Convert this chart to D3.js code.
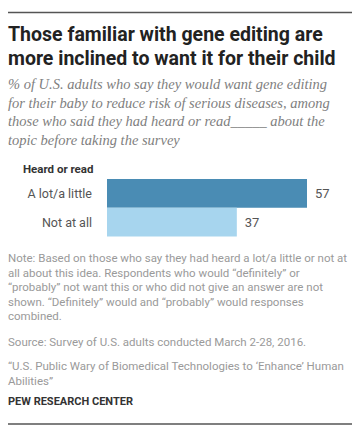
<!DOCTYPE html>
<html>
<head>
<meta charset="utf-8">
<script src="https://cdn.jsdelivr.net/npm/d3@7"></script>
<style>
  body { margin: 0; background: #fff; }
  svg { display: block; }
</style>
</head>
<body>
<div id="chart"></div>
<script>
var svgWidth = 361;
var svgHeight = 431;

// chart data
var categories = ["A lot/a little", "Not at all"];
var values = [57, 37];
var barColors = ["#4a8cb4", "#a7d5ee"];

var titleLines = [
  "Those familiar with gene editing are",
  "more inclined to want it for their child"
];
var subtitleLines = [
  "% of U.S. adults who say they would want gene editing",
  "for their baby to reduce risk of serious diseases, among",
  "those who said they had heard or read_____ about the",
  "topic before taking the survey"
];
var noteLines = [
  "Note: Based on those who say they had heard a lot/a little or not at",
  "all about this idea. Respondents who would \u201cdefinitely\u201d or",
  "\u201cprobably\u201d not want this or who did not give an answer are not",
  "shown. \u201cDefinitely\u201d would and \u201cprobably\u201d would responses",
  "combined."
];
var sourceLine = "Source: Survey of U.S. adults conducted March 2-28, 2016.";
var reportLines = [
  "\u201cU.S. Public Wary of Biomedical Technologies to \u2018Enhance\u2019 Human",
  "Abilities\u201d"
];

var svg = d3.select("#chart")
  .append("svg")
  .attr("width", svgWidth)
  .attr("height", svgHeight);

// top and bottom rules
svg.append("line")
  .attr("x1", 8).attr("x2", 352)
  .attr("y1", 12.5).attr("y2", 12.5)
  .attr("stroke", "#555").attr("stroke-width", 1.3);
svg.append("line")
  .attr("x1", 8).attr("x2", 352)
  .attr("y1", 424).attr("y2", 424)
  .attr("stroke", "#555").attr("stroke-width", 1.3);

// squeeze a text line to a width if it runs too long
function fit(sel, maxW) {
  sel.each(function () {
    var w = this.getComputedTextLength();
    if (w > maxW) {
      d3.select(this).attr("textLength", maxW).attr("lengthAdjust", "spacingAndGlyphs");
    }
  });
}

// title
svg.selectAll(".title")
  .data(titleLines)
  .enter()
  .append("text")
  .attr("class", "title")
  .attr("x", 8)
  .attr("y", (d, i) => 41 + i * 24)
  .attr("font-family", "Roboto, 'Liberation Sans', sans-serif")
  .attr("font-weight", "bold")
  .attr("font-size", 19.5)
  .attr("fill", "#222")
  .text(d => d)
  .call(fit, 338);

// subtitle
svg.selectAll(".subtitle")
  .data(subtitleLines)
  .enter()
  .append("text")
  .attr("class", "subtitle")
  .attr("x", 8)
  .attr("y", (d, i) => 89 + i * 18.5)
  .attr("font-family", "'Liberation Serif', serif")
  .attr("font-style", "italic")
  .attr("font-size", 14.5)
  .attr("fill", "#808080")
  .text(d => d)
  .call(fit, 334);

// bar chart
var x0 = 107;
var xScale = d3.scaleLinear()
  .domain([0, 57])
  .range([x0, 307]);

var yScale = d3.scaleBand()
  .domain(categories)
  .range([179, 236.5])
  .padding(0);

svg.append("text")
  .attr("x", 23)
  .attr("y", 173)
  .attr("font-family", "Roboto, 'Liberation Sans', sans-serif")
  .attr("font-weight", "bold")
  .attr("font-size", 11.5)
  .attr("fill", "#333")
  .text("Heard or read");

svg.selectAll(".bar")
  .data(values)
  .enter()
  .append("rect")
  .attr("class", "bar")
  .attr("x", xScale(0))
  .attr("y", (d, i) => yScale(categories[i]))
  .attr("width", d => xScale(d) - xScale(0))
  .attr("height", yScale.bandwidth())
  .attr("fill", (d, i) => barColors[i]);

svg.selectAll(".cat")
  .data(categories)
  .enter()
  .append("text")
  .attr("class", "cat")
  .attr("x", 92)
  .attr("y", d => yScale(d) + yScale.bandwidth() / 2)
  .attr("dy", "0.35em")
  .attr("text-anchor", "end")
  .attr("font-family", "Roboto, 'Liberation Sans', sans-serif")
  .attr("font-size", 12.5)
  .attr("fill", "#555")
  .text(d => d);

svg.selectAll(".val")
  .data(values)
  .enter()
  .append("text")
  .attr("class", "val")
  .attr("x", d => xScale(d) + 8)
  .attr("y", (d, i) => yScale(categories[i]) + yScale.bandwidth() / 2)
  .attr("dy", "0.35em")
  .attr("font-family", "Roboto, 'Liberation Sans', sans-serif")
  .attr("font-size", 13)
  .attr("fill", "#555")
  .text(d => d);

// notes and source
var smallFont = "Roboto, 'Liberation Sans Narrow', sans-serif";

svg.selectAll(".note")
  .data(noteLines)
  .enter()
  .append("text")
  .attr("class", "note")
  .attr("x", 8)
  .attr("y", (d, i) => 262 + i * 14.6)
  .attr("font-family", smallFont)
  .attr("font-size", 11.5)
  .attr("fill", "#9a9a9a")
  .text(d => d)
  .call(fit, 342);

svg.append("text")
  .attr("x", 8)
  .attr("y", 346)
  .attr("font-family", smallFont)
  .attr("font-size", 11.5)
  .attr("fill", "#9a9a9a")
  .text(sourceLine)
  .call(fit, 302);

svg.selectAll(".report")
  .data(reportLines)
  .enter()
  .append("text")
  .attr("class", "report")
  .attr("x", 8)
  .attr("y", (d, i) => 370 + i * 14.6)
  .attr("font-family", smallFont)
  .attr("font-size", 11.5)
  .attr("fill", "#9a9a9a")
  .text(d => d)
  .call(fit, 337);

svg.append("text")
  .attr("x", 8)
  .attr("y", 405)
  .attr("font-family", "Roboto, 'Liberation Sans', sans-serif")
  .attr("font-weight", "bold")
  .attr("font-size", 11)
  .attr("fill", "#333")
  .text("PEW RESEARCH CENTER")
  .call(fit, 130);
</script>
</body>
</html>
